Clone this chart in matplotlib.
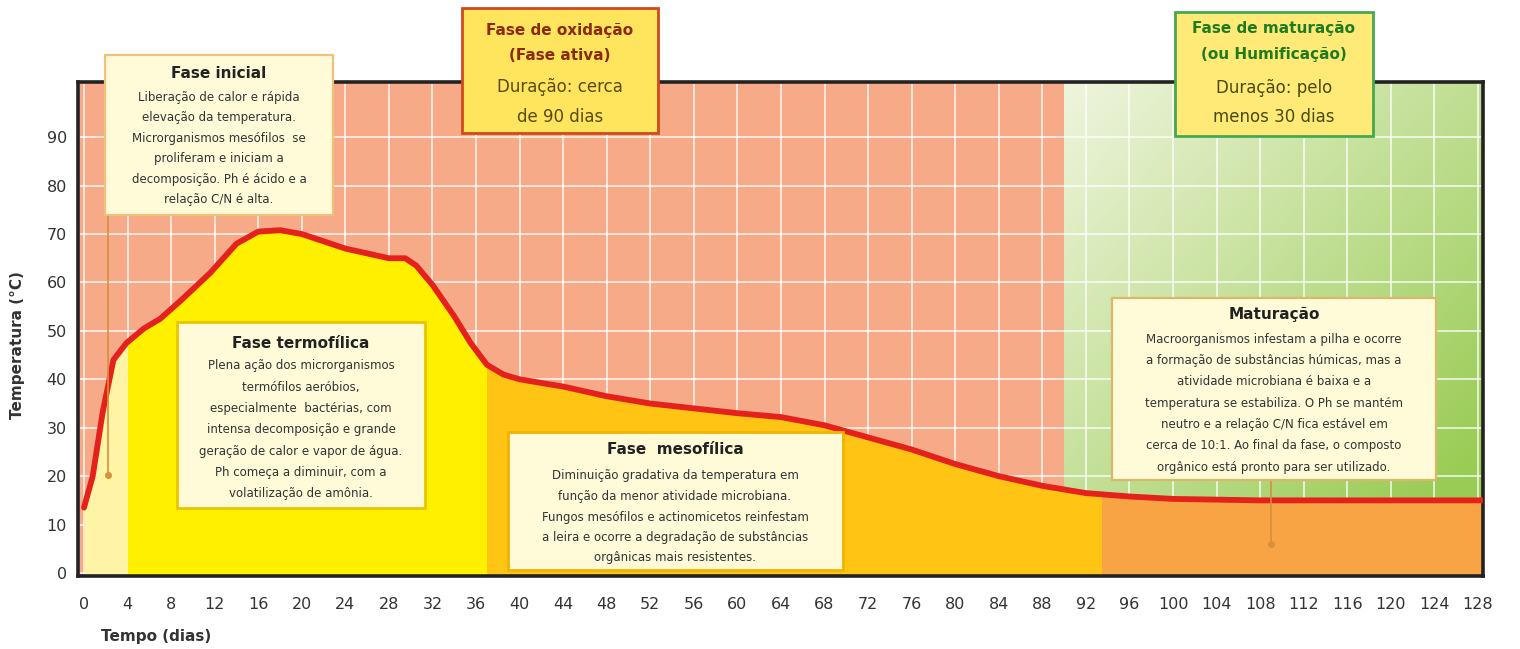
import numpy as np
import matplotlib
matplotlib.use("Agg")
import matplotlib.pyplot as plt
from matplotlib.patches import Rectangle

# ---- data ----
days = [0, 0.8, 1.7, 2.7, 3.9, 5.5, 7, 9, 11.6, 14, 16, 18, 20, 22, 24, 26, 28,
        29.5, 30.5, 32, 34, 35.5, 37, 38.5, 40, 44, 48, 52, 56, 60, 64, 68,
        72, 76, 80, 84, 88, 92, 96, 100, 108, 116, 128]
temp = [13.5, 20, 33, 44, 47.5, 50.5, 52.5, 56.5, 62, 68, 70.5, 70.8, 70, 68.5,
        67, 66, 65, 65, 63.5, 59.5, 53, 47.5, 43, 41, 40, 38.5, 36.5, 35, 34,
        33, 32.2, 30.5, 28, 25.5, 22.5, 20, 18, 16.5, 15.8, 15.3, 15, 15, 15]

phase_edges = [-1, 4, 37, 93.5, 130]
phase_colors = ["#FFF4A6", "#FFF000", "#FFC414", "#F9A444"]
oxid_end = 90

xticks = list(range(0, 129, 4))
yticks = list(range(0, 91, 10))

W, H = 1520, 649


def fx(x):
    return x / W


def fy(y):
    return 1 - y / H


fig = plt.figure(figsize=(W / 100, H / 100), dpi=100)
ax = fig.add_axes([fx(78), fy(576), fx(1483) - fx(78), fy(82) - fy(576)])

xmin, xmax = -0.55, 128.46
ymin, ymax = -0.62, 101.4

# background: salmon for oxidation phase, green gradient for maturation
ax.axvspan(xmin, oxid_end, color="#F6AA88", zorder=0, lw=0)
u = np.linspace(0, 1, 200)[None, :]
v = np.linspace(0, 1, 200)[:, None]
t = np.clip(0.55 * u + 0.6 * v, 0, 1)
pale = np.array([0.94, 0.96, 0.87])
green = np.array([0.60, 0.80, 0.33])
grad = pale[None, None, :] * (1 - t[..., None]) + green[None, None, :] * t[..., None]
ax.imshow(grad, extent=[oxid_end, xmax, ymin, ymax], origin="upper",
          aspect="auto", zorder=0)

# grid
ax.set_axisbelow(True)
ax.set_xticks(xticks)
ax.set_yticks(yticks)
ax.grid(True, color="white", lw=1.4, alpha=0.7)

# fills under the curve, one colour per phase (clipped to the phase span)
fill_x = days + [xmax]
fill_y = temp + [temp[-1]]
for x0, x1, c in zip(phase_edges[:-1], phase_edges[1:], phase_colors):
    poly = ax.fill_between(fill_x, ymin, fill_y, color=c, lw=0, zorder=1)
    poly.set_clip_path(Rectangle((x0, ymin - 5), x1 - x0, ymax - ymin + 10,
                                 transform=ax.transData))

ax.plot(fill_x, fill_y, color="#E4221B", lw=4.2, solid_capstyle="round",
        solid_joinstyle="round", zorder=3)

# leader lines
ax.plot([2.2, 2.2], [74, 20.2], color="#D9903A", lw=1.2, zorder=4)
ax.plot(2.2, 20.2, "o", color="#D9903A", ms=4, zorder=4)
ax.plot([109, 109], [19.2, 6], color="#D9903A", lw=1.2, zorder=4)
ax.plot(109, 6, "o", color="#D9903A", ms=4, zorder=4)

ax.set_xlim(xmin, xmax)
ax.set_ylim(ymin, ymax)
ax.tick_params(length=0, labelsize=11.5, colors="#333333")
ax.tick_params(axis="x", pad=15)
ax.tick_params(axis="y", pad=8)
for s in ax.spines.values():
    s.set_linewidth(2.6)
    s.set_color("#222222")

fig.text(fx(18), fy(345), "Temperatura (°C)", rotation=90, ha="center",
         va="center", fontsize=11, fontweight="bold", color="#333333")
fig.text(fx(156), fy(636), "Tempo (dias)", ha="center", va="center",
         fontsize=11, fontweight="bold", color="#333333")


def box(x0, y0, x1, y1, face, edge, lw=1.6):
    fig.add_artist(Rectangle((fx(x0), fy(y1)), fx(x1) - fx(x0), fy(y0) - fy(y1),
                             transform=fig.transFigure, facecolor=face,
                             edgecolor=edge, lw=lw, zorder=5))


def lines(xc, ys, texts, size, color, weight="normal"):
    for y, s in zip(ys, texts):
        fig.text(fx(xc), fy(y), s, ha="center", va="center", fontsize=size,
                 color=color, fontweight=weight, zorder=6)


# Fase inicial
box(105, 55, 333, 215, "#FFFAD8", "#EFC27A")
lines(219, [73], ["Fase inicial"], 11, "#222222", "bold")
lines(219, np.linspace(97, 200, 6),
      ["Liberação de calor e rápida", "elevação da temperatura.",
       "Microrganismos mesófilos  se", "proliferam e iniciam a",
       "decomposição. Ph é ácido e a", "relação C/N é alta."],
      8.5, "#333333")

# Fase termofílica
box(177, 322, 425, 508, "#FFFAD8", "#EBC400", lw=2)
lines(301, [343], ["Fase termofílica"], 11, "#222222", "bold")
lines(301, np.linspace(366, 494, 7),
      ["Plena ação dos microrganismos", "termófilos aeróbios,",
       "especialmente  bactérias, com", "intensa decomposição e grande",
       "geração de calor e vapor de água.", "Ph começa a diminuir, com a",
       "volatilização de amônia."],
      8.5, "#333333")

# Fase mesofílica
box(508, 432, 843, 570, "#FFFAD8", "#F0B400", lw=2)
lines(675, [450], ["Fase  mesofílica"], 11, "#222222", "bold")
lines(675, np.linspace(476, 558, 5),
      ["Diminuição gradativa da temperatura em",
       "função da menor atividade microbiana.",
       "Fungos mesófilos e actinomicetos reinfestam",
       "a leira e ocorre a degradação de substâncias",
       "orgânicas mais resistentes."],
      8.5, "#333333")

# Maturação
box(1112, 298, 1436, 480, "#FFFAD8", "#D9B86A")
lines(1274, [315], ["Maturação"], 11, "#222222", "bold")
lines(1274, np.linspace(339, 467, 7),
      ["Macroorganismos infestam a pilha e ocorre",
       "a formação de substâncias húmicas, mas a",
       "atividade microbiana é baixa e a",
       "temperatura se estabiliza. O Ph se mantém",
       "neutro e a relação C/N fica estável em",
       "cerca de 10:1. Ao final da fase, o composto",
       "orgânico está pronto para ser utilizado."],
      8.5, "#333333")

# top phase boxes
box(462, 8, 658, 133, "#FFE45E", "#CF4A1C", lw=2)
lines(560, [30, 55], ["Fase de oxidação", "(Fase ativa)"], 11, "#8B2A0A", "bold")
lines(560, [87, 117], ["Duração: cerca", "de 90 dias"], 12, "#5A4A10")

box(1175, 12, 1373, 136, "#FFEA78", "#45A84E", lw=2)
lines(1274, [29, 55], ["Fase de maturação", "(ou Humificação)"], 11,
      "#1E7B1E", "bold")
lines(1274, [88, 117], ["Duração: pelo", "menos 30 dias"], 12, "#4A4A10")

fig.savefig("out.png", dpi=100)
